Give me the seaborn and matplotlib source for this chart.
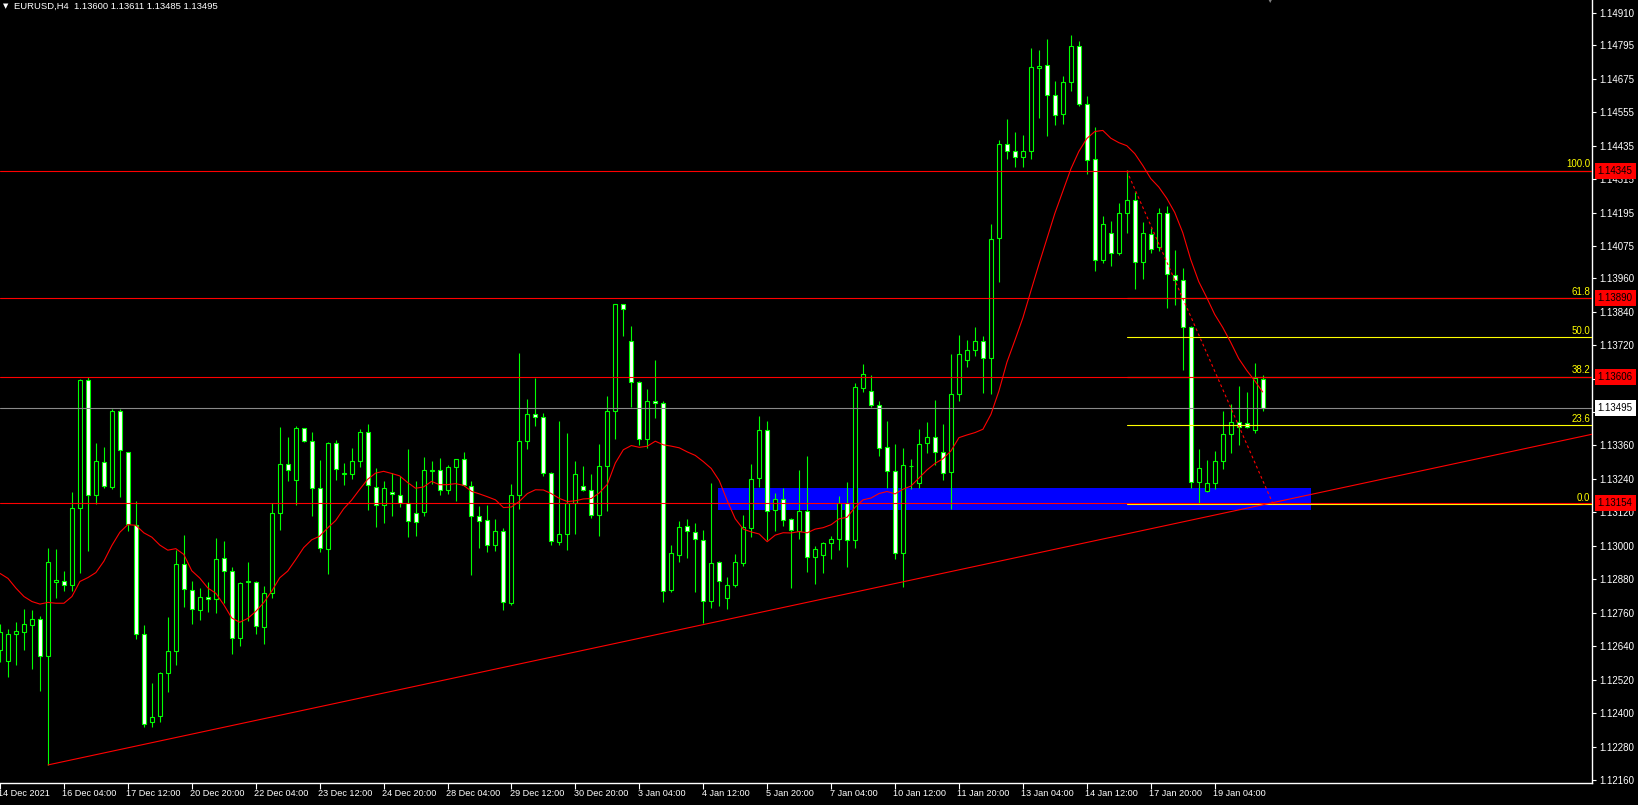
import numpy as np
import pandas as pd
import matplotlib
matplotlib.use("Agg")
import matplotlib.pyplot as plt
import matplotlib.transforms as mtransforms
import seaborn as sns

# EURUSD H4 candles (oldest first)
opens = [1.12626, 1.12588, 1.12682, 1.12690, 1.12715, 1.12736, 1.12604, 1.12869, 1.12873, 1.12858,
         1.13135, 1.13594, 1.13182, 1.13300, 1.13211, 1.13482, 1.13335, 1.13074, 1.12682, 1.12367,
         1.12388, 1.12543, 1.12622, 1.12934, 1.12841, 1.12769, 1.12815, 1.12808, 1.12955, 1.12908,
         1.12671, 1.12869, 1.12869, 1.12708, 1.12830, 1.13117, 1.13292, 1.13235, 1.13421, 1.13375,
         1.13207, 1.12988, 1.13368, 1.13257, 1.13257, 1.13303, 1.13407, 1.13211, 1.13145, 1.13192,
         1.13182, 1.13152, 1.13117, 1.13120, 1.13268, 1.13271, 1.13199, 1.13281, 1.13310, 1.13213,
         1.13106, 1.13092, 1.13002, 1.13052, 1.12794, 1.13182, 1.13375, 1.13472, 1.13461, 1.13260,
         1.13013, 1.13041, 1.13152, 1.13213, 1.13199, 1.13109, 1.13285, 1.13482, 1.13866, 1.13733,
         1.13586, 1.13382, 1.13518, 1.13511, 1.12841, 1.12966, 1.13070, 1.13049, 1.13020, 1.12801,
         1.12941, 1.12812, 1.12858, 1.12937, 1.13063, 1.13242, 1.13414, 1.13127, 1.13167, 1.13095,
         1.13052, 1.13124, 1.12959, 1.12966, 1.13009, 1.13023, 1.13152, 1.13020, 1.13565, 1.13554,
         1.13504, 1.13353, 1.13267, 1.12973, 1.13285, 1.13224, 1.13368, 1.13389, 1.13335, 1.13264,
         1.13544, 1.13666, 1.13702, 1.13734, 1.13673, 1.14103, 1.14440, 1.14415, 1.14393, 1.14415,
         1.14713, 1.14723, 1.14616, 1.14548, 1.14663, 1.14792, 1.14584, 1.14386, 1.14024, 1.14121,
         1.14049, 1.14193, 1.14239, 1.14017, 1.14117, 1.14071, 1.14193, 1.13970, 1.13952, 1.13784,
         1.13228, 1.13196, 1.13224, 1.13303, 1.13400, 1.13443, 1.13440, 1.13414, 1.13600]
highs = [1.12720, 1.12702, 1.12726, 1.12772, 1.12769, 1.12747, 1.12991, 1.12987, 1.12909, 1.13192,
         1.13597, 1.13605, 1.13368, 1.13353, 1.13490, 1.13490, 1.13338, 1.13160, 1.12715, 1.12508,
         1.12546, 1.12744, 1.12984, 1.13039, 1.12873, 1.12848, 1.12869, 1.13027, 1.13016, 1.12923,
         1.12869, 1.12941, 1.12873, 1.12855, 1.13152, 1.13425, 1.13389, 1.13428, 1.13424, 1.13407,
         1.13306, 1.13371, 1.13379, 1.13296, 1.13350, 1.13418, 1.13436, 1.13278, 1.13232, 1.13260,
         1.13249, 1.13346, 1.13232, 1.13318, 1.13303, 1.13314, 1.13289, 1.13312, 1.13335, 1.13232,
         1.13142, 1.13145, 1.13095, 1.13063, 1.13221, 1.13691, 1.13526, 1.13601, 1.13475, 1.13264,
         1.13447, 1.13404, 1.13303, 1.13285, 1.13257, 1.13364, 1.13536, 1.13868, 1.13868, 1.13787,
         1.13592, 1.13564, 1.13666, 1.13518, 1.13002, 1.13088, 1.13095, 1.13081, 1.13056, 1.13224,
         1.12944, 1.12887, 1.12969, 1.13110, 1.13292, 1.13465, 1.13447, 1.13189, 1.13206, 1.13098,
         1.13271, 1.13321, 1.12998, 1.13013, 1.13034, 1.13178, 1.13228, 1.13583, 1.13651, 1.13611,
         1.13518, 1.13447, 1.13364, 1.13350, 1.13310, 1.13418, 1.13443, 1.13522, 1.13436, 1.13687,
         1.13755, 1.13738, 1.13784, 1.13751, 1.14154, 1.14455, 1.14530, 1.14483, 1.14475, 1.14784,
         1.14777, 1.14817, 1.14666, 1.14684, 1.14831, 1.14810, 1.14612, 1.14501, 1.14182, 1.14164,
         1.14228, 1.14347, 1.14268, 1.14161, 1.14139, 1.14211, 1.14218, 1.14060, 1.13995, 1.13787,
         1.13346, 1.13307, 1.13339, 1.13482, 1.13508, 1.13572, 1.13550, 1.13655, 1.13611]
lows = [1.12583, 1.12530, 1.12573, 1.12627, 1.12559, 1.12480, 1.12214, 1.12814, 1.12837, 1.12837,
        1.12904, 1.12982, 1.13151, 1.13207, 1.13204, 1.13174, 1.13052, 1.12667, 1.12349, 1.12349,
        1.12367, 1.12474, 1.12572, 1.12782, 1.12721, 1.12733, 1.12764, 1.12758, 1.12794, 1.12611,
        1.12640, 1.12729, 1.12682, 1.12647, 1.12812, 1.13056, 1.13231, 1.13147, 1.13372, 1.13108,
        1.12979, 1.12900, 1.13235, 1.13218, 1.13239, 1.13284, 1.13127, 1.13067, 1.13081, 1.13106,
        1.13140, 1.13031, 1.13036, 1.13106, 1.13221, 1.13182, 1.13185, 1.13160, 1.13214, 1.12897,
        1.12991, 1.12976, 1.12980, 1.12770, 1.12787, 1.13131, 1.13346, 1.13429, 1.13249, 1.13002,
        1.13002, 1.12984, 1.13041, 1.13196, 1.13099, 1.13034, 1.13124, 1.13382, 1.13751, 1.13497,
        1.13361, 1.13350, 1.13459, 1.12797, 1.12834, 1.12941, 1.12955, 1.12834, 1.12722, 1.12776,
        1.12783, 1.12772, 1.12851, 1.12926, 1.13031, 1.13210, 1.13020, 1.13052, 1.13070, 1.12848,
        1.13023, 1.12905, 1.12862, 1.12901, 1.12951, 1.12984, 1.12923, 1.12991, 1.13550, 1.13497,
        1.13321, 1.13206, 1.12951, 1.12851, 1.13203, 1.13206, 1.13332, 1.13289, 1.13235, 1.13131,
        1.13521, 1.13643, 1.13680, 1.13549, 1.13546, 1.13945, 1.14386, 1.14360, 1.14360, 1.14386,
        1.14536, 1.14471, 1.14511, 1.14514, 1.14630, 1.14577, 1.14335, 1.13985, 1.14013, 1.14003,
        1.14042, 1.14121, 1.13920, 1.13956, 1.14049, 1.14057, 1.13852, 1.13863, 1.13632, 1.13206,
        1.13154, 1.13192, 1.13203, 1.13275, 1.13332, 1.13361, 1.13422, 1.13404, 1.13485]
closes = [1.12691, 1.12682, 1.12693, 1.12718, 1.12736, 1.12604, 1.12941, 1.12876, 1.12858, 1.13135,
          1.13594, 1.13182, 1.13303, 1.13215, 1.13482, 1.13343, 1.13077, 1.12682, 1.12360, 1.12385,
          1.12543, 1.12622, 1.12934, 1.12845, 1.12772, 1.12815, 1.12808, 1.12951, 1.12908, 1.12671,
          1.12865, 1.12873, 1.12711, 1.12830, 1.13117, 1.13292, 1.13271, 1.13421, 1.13375, 1.13207,
          1.12991, 1.13368, 1.13275, 1.13260, 1.13303, 1.13407, 1.13218, 1.13145, 1.13207, 1.13185,
          1.13152, 1.13088, 1.13084, 1.13271, 1.13272, 1.13199, 1.13281, 1.13310, 1.13217, 1.13106,
          1.13088, 1.13002, 1.13052, 1.12797, 1.13182, 1.13375, 1.13472, 1.13461, 1.13260, 1.13016,
          1.13041, 1.13152, 1.13257, 1.13199, 1.13109, 1.13285, 1.13482, 1.13866, 1.13848, 1.13586,
          1.13382, 1.13518, 1.13511, 1.12837, 1.12973, 1.13067, 1.13052, 1.13023, 1.12801, 1.12937,
          1.12873, 1.12858, 1.12941, 1.13067, 1.13239, 1.13414, 1.13124, 1.13167, 1.13092, 1.13056,
          1.13124, 1.12959, 1.12987, 1.13009, 1.13023, 1.13152, 1.13020, 1.13568, 1.13615, 1.13504,
          1.13350, 1.13267, 1.12973, 1.13289, 1.13287, 1.13364, 1.13389, 1.13335, 1.13260, 1.13544,
          1.13687, 1.13702, 1.13734, 1.13673, 1.14099, 1.14440, 1.14415, 1.14393, 1.14415, 1.14716,
          1.14720, 1.14616, 1.14544, 1.14663, 1.14792, 1.14584, 1.14383, 1.14024, 1.14153, 1.14049,
          1.14193, 1.14239, 1.14017, 1.14121, 1.14063, 1.14193, 1.13974, 1.13952, 1.13784, 1.13228,
          1.13278, 1.13224, 1.13303, 1.13400, 1.13443, 1.13425, 1.13425, 1.13601, 1.13495]

# moving average (14) for the first bars, whose history is off screen
ma_head = [1.12901, 1.12883, 1.12848, 1.12818, 1.12800, 1.12791, 1.12797,
           1.12794, 1.12794, 1.12818, 1.12872, 1.12886, 1.12904]
ma_period = 14

# horizontal lines and objects
red_levels = [1.14345, 1.13890, 1.13606, 1.13154]
bid_price = 1.13495
zone_x = [89.8, 164.0]
zone_y = [1.13129, 1.13207]
trend_x = [6, 199.2]
trend_y = [1.12214, 1.13400]
fib_x = [141, 159.3]
fib_y = [1.14345, 1.13150]
fib_ratios = [100.0, 61.8, 50.0, 38.2, 23.6, 0.0]
shift_mark = 159.0  # chart shift marker at the top

price_ticks = ["1.14910", "1.14795", "1.14675", "1.14555", "1.14435", "1.14315", "1.14195",
               "1.14075", "1.13960", "1.13840", "1.13720", "1.13600", "1.13480", "1.13360",
               "1.13240", "1.13120", "1.13000", "1.12880", "1.12760", "1.12640", "1.12520",
               "1.12400", "1.12280", "1.12160"]
time_labels = ["14 Dec 2021", "16 Dec 04:00", "17 Dec 12:00", "20 Dec 20:00", "22 Dec 04:00",
               "23 Dec 12:00", "24 Dec 20:00", "28 Dec 04:00", "29 Dec 12:00", "30 Dec 20:00",
               "3 Jan 04:00", "4 Jan 12:00", "5 Jan 20:00", "7 Jan 04:00", "10 Jan 12:00",
               "11 Jan 20:00", "13 Jan 04:00", "14 Jan 12:00", "17 Jan 20:00", "19 Jan 04:00"]
label_step = 8
header = "EURUSD,H4  1.13600 1.13611 1.13485 1.13495"

sns.set_theme(style="dark", rc={"axes.facecolor": "black", "figure.facecolor": "black"})
plt.rcParams["font.family"] = ["Liberation Sans", "DejaVu Sans"]

GREEN = "#00ff00"
W, H = 1638, 805

fig = plt.figure(figsize=(W / 100, H / 100), dpi=100)
ax = fig.add_axes([0, 22 / H, 1592 / W, 783 / H])
ax.set_facecolor("black")
ax.grid(False)

df = pd.DataFrame({"open": opens, "high": highs, "low": lows, "close": closes})
df["idx"] = np.arange(len(df))
ma = df["close"].rolling(ma_period).mean()
ma.iloc[:len(ma_head)] = ma_head
df["ma"] = ma

# blue zone in the background
ax.fill_between(zone_x, zone_y[0], zone_y[1], color="#0000ff", lw=0, zorder=1)

# candles: wicks then bodies (bull hollow, bear white)
up = df["close"] >= df["open"]
ax.vlines(df["idx"], df["low"], df["high"], color=GREEN, lw=0.8, zorder=3)
body = (df["close"] - df["open"]).abs().clip(lower=0.00002)
ax.bar(df["idx"], body, bottom=df[["open", "close"]].min(axis=1), width=0.5,
       color=np.where(up, "black", "white"), edgecolor=GREEN, linewidth=0.8, zorder=4)

# fibonacci levels
fib_levels = [fib_y[1] + r / 100 * (fib_y[0] - fib_y[1]) for r in fib_ratios]
for r, lv in zip(fib_ratios, fib_levels):
    ax.plot([fib_x[0], 199.3], [lv, lv], color="#ffff00", lw=0.8, zorder=5)
    ax.annotate(f"{r:.1f}", xy=(1590 / 1592, lv), xycoords=("axes fraction", "data"),
                xytext=(0, 1), textcoords="offset points", ha="right", va="bottom",
                color="#ffff00", fontsize=7, zorder=9)
ax.plot(fib_x, fib_y, color="red", lw=0.8, ls=(0, (2.5, 2.5)), zorder=6)

# horizontal red lines, bid line, trend line, moving average
for lv in red_levels:
    ax.axhline(lv, color="red", lw=0.8, zorder=6)
ax.axhline(bid_price, color="#8a8a8a", lw=0.8, zorder=6)
ax.plot(trend_x, trend_y, color="red", lw=0.8, zorder=6)
sns.lineplot(data=df, x="idx", y="ma", color="red", linewidth=0.8, ax=ax, zorder=6)

ax.set_xlim(0.2125, 199.2125)
ax.set_ylim(1.121492, 1.149577)
ax.set_xlabel("")
ax.set_ylabel("")

# price axis on the right
ax.yaxis.tick_right()
ax.set_yticks([float(s) for s in price_ticks])
ax.set_yticklabels(price_ticks)
ax.tick_params(axis="y", colors="white", length=3, width=0.8, pad=2, labelsize=7,
               direction="out", right=True, left=False)
tick_k = np.arange(0, label_step * len(time_labels), label_step)
ax.set_xticks(tick_k)
ax.set_xticklabels([""] * len(tick_k))
ax.tick_params(axis="x", colors="white", length=4, width=0.8, direction="out", bottom=True)
for s in ["left", "top"]:
    ax.spines[s].set_visible(False)
for s in ["right", "bottom"]:
    ax.spines[s].set_color("white")
    ax.spines[s].set_linewidth(1)

trans_x = mtransforms.blended_transform_factory(ax.transData, ax.transAxes)
for k, lab in zip(tick_k, time_labels):
    ax.text(k - 0.2, -10 / 783, lab, transform=trans_x, ha="left", va="center",
            color="white", fontsize=6.6, clip_on=False)

# chart shift marker
ax.text(shift_mark, 1.0, "\u25bc", transform=trans_x, ha="center", va="center",
        color="#808080", fontsize=6, family=["DejaVu Sans"], clip_on=False)

# price labels on the axis
trans_y = mtransforms.blended_transform_factory(ax.transAxes, ax.transData)
for lv in red_levels:
    ax.text(1.0036, lv, f"{lv:.5f}", transform=trans_y, ha="left", va="center", fontsize=7,
            color="black", clip_on=False, zorder=10,
            bbox=dict(facecolor="red", edgecolor="none", pad=2.2))
ax.text(1.0036, bid_price, f"{bid_price:.5f}", transform=trans_y, ha="left", va="center",
        fontsize=7, color="black", clip_on=False, zorder=10,
        bbox=dict(facecolor="white", edgecolor="none", pad=2.2))

# header
fig.text(3 / W, 1 - 6 / H, "\u25bc", color="white", fontsize=5, va="center",
         family=["DejaVu Sans"])
fig.text(14 / W, 1 - 6.5 / H, header, color="white", fontsize=6.8, va="center")

fig.savefig("out.png", dpi=100, facecolor="black")
